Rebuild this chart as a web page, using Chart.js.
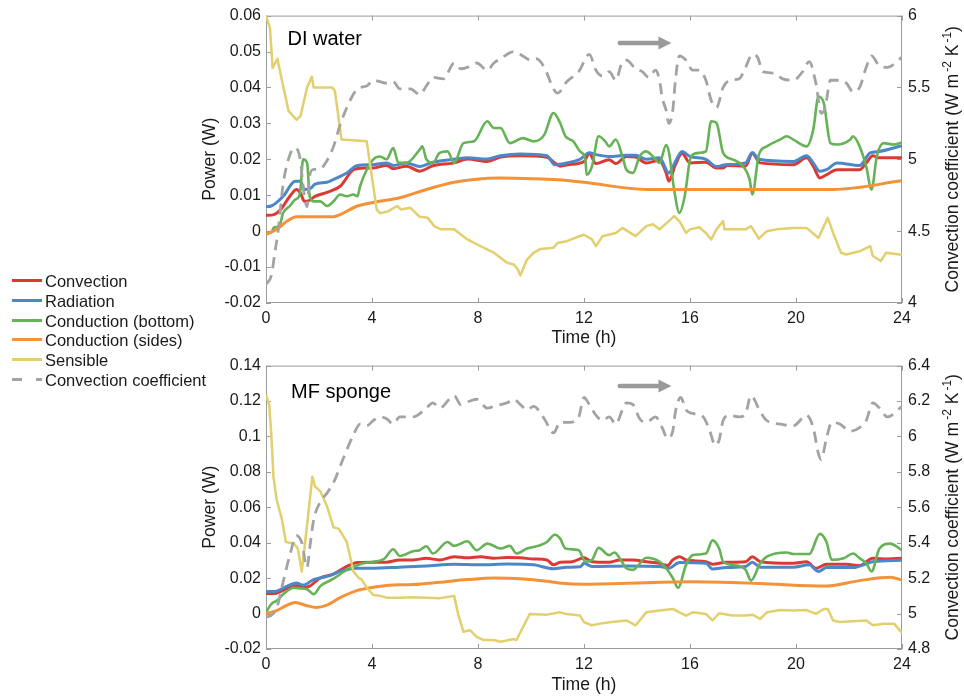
<!DOCTYPE html>
<html>
<head>
<meta charset="utf-8">
<script src="https://cdn.jsdelivr.net/npm/chart.js@4.4.1/dist/chart.umd.min.js"></script>
<style>
  html, body { margin: 0; padding: 0; background: #fff; }
  #page { position: relative; width: 964px; height: 700px; overflow: hidden;
          font-family: "Liberation Sans", Arial, Helvetica, sans-serif; color: #1a1a1a; }
  canvas { position: absolute; }
  .leg-row { position: absolute; left: 0; height: 20px; line-height: 20px; font-size: 16.5px; white-space: nowrap; }
  .leg-row .txt { position: absolute; left: 45px; top: 0; }
  .leg-row .seg { position: absolute; top: 8px; height: 3px; }
</style>
</head>
<body>
<div id="page">
  <canvas id="topChart" width="764" height="350" style="left:200px; top:0px;"></canvas>
  <canvas id="bottomChart" width="764" height="350" style="left:200px; top:350px;"></canvas>
  <div id="legend"></div>
</div>
<script>
// ---- data: [time (h), value] ----
// DI water panel, power in W
const diConvection = [[0,.0044],[.3,.0046],[.55,.006],[.9,.0097],[1.15,.0116],[1.3,.0106],[1.45,.0083],[1.55,.0083],[1.85,.0097],[2.3,.0108],[2.8,.0125],[3.3,.0171],[3.7,.0176],[4.05,.0176],[4.55,.0183],[4.8,.0174],[5.3,.0181],[5.8,.0167],[6.3,.0182],[7.1,.019],[7.6,.0201],[8.35,.0194],[8.85,.0206],[9.6,.021],[10.6,.0206],[10.9,.019],[11.1,.0181],[11.4,.0185],[12,.0194],[12.2,.0216],[12.45,.0188],[12.95,.0199],[13.2,.0188],[13.6,.0208],[13.95,.0206],[14.35,.019],[14.85,.0197],[15.1,.0162],[15.2,.0139],[15.45,.0185],[15.7,.0216],[16,.019],[16.6,.0192],[17,.0176],[17.25,.0176],[17.4,.0183],[18.1,.0181],[18.35,.0216],[18.65,.019],[19.9,.0185],[20.4,.0204],[20.65,.0181],[20.9,.0148],[21.15,.0157],[21.55,.0171],[22.4,.0171],[22.65,.019],[22.9,.021],[23.15,.0204],[24,.0204]];
const diRadiation = [[0,.0068],[.2,.007],[.65,.0097],[1.1,.0139],[1.3,.0139],[1.45,.0116],[1.7,.012],[1.85,.0131],[2.3,.0136],[2.55,.0144],[3.05,.0162],[3.45,.0183],[4.05,.0185],[4.55,.019],[4.8,.0183],[5.3,.019],[5.8,.018],[6.3,.0192],[7.1,.02],[7.6,.0204],[8.35,.0201],[8.85,.021],[9.6,.0215],[10.6,.021],[10.9,.0185],[11.35,.019],[11.85,.02],[12.2,.0218],[12.45,.0213],[12.95,.0208],[13.6,.0211],[13.95,.0211],[14.35,.02],[14.85,.0204],[15.2,.0162],[15.45,.0194],[15.7,.0222],[16,.0208],[16.6,.02],[17,.018],[17.35,.0185],[18.1,.019],[18.35,.0219],[18.6,.02],[19.9,.0194],[20.4,.021],[20.65,.019],[20.9,.0167],[21.15,.0171],[21.55,.019],[22.4,.0183],[22.8,.0218],[23.15,.0222],[24,.0238]];
const diCondBottom = [[0,-.0005],[.2,-.0003],[.3,.001],[.5,.0014],[.65,.0051],[.9,.007],[1.1,.0088],[1.25,.0097],[1.3,.0116],[1.4,.02],[1.55,.019],[1.65,.0097],[1.8,.0083],[2.05,.0083],[2.3,.007],[2.55,.0083],[2.8,.0102],[3.05,.0097],[3.3,.0102],[3.45,.0097],[3.55,.0125],[3.8,.0171],[4.05,.02],[4.3,.0208],[4.55,.02],[4.8,.0231],[5,.019],[5.3,.019],[5.8,.0227],[5.9,.0236],[6.05,.02],[6.3,.019],[6.55,.0218],[6.85,.0222],[7.1,.019],[7.45,.0245],[7.85,.025],[8.35,.0306],[8.6,.0287],[8.85,.0287],[9.2,.0245],[9.7,.0259],[10.1,.025],[10.5,.0268],[10.85,.0329],[11.1,.0301],[11.3,.0264],[11.6,.025],[11.85,.0222],[12.05,.02],[12.1,.0157],[12.3,.018],[12.55,.0264],[12.8,.025],[12.95,.0236],[13.2,.0255],[13.45,.0208],[13.6,.0171],[13.85,.0162],[14.1,.0208],[14.35,.0222],[14.6,.0208],[14.85,.019],[15.1,.024],[15.2,.0222],[15.4,.0116],[15.6,.0051],[15.8,.0097],[16,.0199],[16.1,.0213],[16.35,.0218],[16.6,.0222],[16.8,.0306],[17,.0301],[17.25,.0218],[17.6,.02],[18,.0181],[18.25,.0144],[18.35,.0102],[18.6,.0213],[18.9,.0236],[19.4,.0255],[19.65,.0264],[19.9,.0255],[20.4,.0236],[20.65,.0282],[20.85,.0375],[21.05,.0356],[21.3,.0245],[21.55,.0241],[22.05,.0255],[22.15,.0264],[22.4,.0236],[22.65,.018],[22.85,.0116],[23.05,.0208],[23.3,.0245],[23.7,.0241],[24,.0247]];
const diCondSides = [[0,-.0009],[.4,.0005],[.8,.0028],[1.15,.004],[2.55,.004],[2.8,.0046],[3.45,.007],[4.05,.008],[5.05,.0093],[6.05,.0116],[7.1,.0136],[7.85,.0144],[8.85,.0148],[10.1,.0146],[11,.0143],[12,.0136],[14.35,.0116],[21.4,.0116],[24,.014]];
const diSensible = [[0,.06],[.15,.0565],[.25,.0454],[.43,.048],[.6,.042],[.85,.0335],[1.15,.031],[1.3,.032],[1.55,.04],[1.73,.043],[1.8,.04],[2.5,.04],[2.6,.039],[2.85,.0255],[3.8,.025],[4.18,.006],[4.3,.005],[4.6,.0055],[4.95,.007],[5.1,.006],[5.45,.0065],[5.8,.004],[6.1,.0037],[6.35,.0014],[6.6,.0005],[7.1,.0005],[7.6,-.0023],[8.1,-.0042],[8.6,-.006],[9.1,-.0088],[9.35,-.0093],[9.5,-.0106],[9.6,-.0123],[9.85,-.0079],[10.1,-.006],[10.35,-.005],[10.85,-.0046],[11,-.0033],[11.35,-.0028],[11.8,-.0015],[12,-.001],[12.3,-.0023],[12.45,-.0042],[12.7,-.0014],[13.2,-.0005],[13.45,.0009],[13.95,-.0014],[14.35,.0014],[14.6,.0019],[14.85,.0005],[15.2,.0028],[15.4,.0042],[15.6,.0028],[15.85,-.0005],[16,.0005],[16.35,.0011],[16.6,-.0005],[16.8,-.0023],[17,.0005],[17.25,.0028],[17.3,.0005],[17.6,.0005],[18.1,.0005],[18.3,.0014],[18.6,-.0021],[18.9,0],[19.25,.0005],[19.9,.0009],[20.4,.0009],[20.85,-.0019],[21.05,.0014],[21.2,.0037],[21.4,-.0005],[21.7,-.006],[21.9,-.0065],[22.4,-.0056],[22.8,-.0042],[22.9,-.0069],[23.2,-.0083],[23.4,-.006],[23.9,-.0065],[24,-.0065]];
// DI water convection coefficient, W m^-2 K^-1
const diCoefficient = [[0,4.13],[.2,4.19],[.35,4.37],[.45,4.49],[.65,4.83],[.9,5.03],[1.1,5.08],[1.3,4.99],[1.4,4.81],[1.55,4.67],[1.65,4.89],[1.8,4.93],[2,4.93],[2.3,4.99],[2.55,5.09],[2.8,5.24],[3.05,5.36],[3.45,5.49],[3.8,5.51],[4.05,5.55],[4.3,5.54],[4.55,5.53],[4.8,5.54],[5.05,5.49],[5.45,5.49],[5.8,5.45],[6.05,5.51],[6.3,5.57],[6.7,5.56],[7.1,5.67],[7.35,5.63],[7.6,5.64],[7.95,5.67],[8.35,5.62],[8.6,5.67],[8.85,5.7],[9.35,5.75],[9.6,5.73],[10,5.69],[10.2,5.7],[10.5,5.64],[10.85,5.49],[11,5.46],[11.35,5.54],[11.8,5.61],[12.2,5.73],[12.45,5.62],[12.7,5.58],[12.95,5.61],[13.2,5.55],[13.45,5.68],[13.6,5.69],[13.95,5.63],[14.2,5.61],[14.45,5.57],[14.7,5.62],[14.85,5.55],[14.95,5.43],[15.1,5.34],[15.2,5.25],[15.35,5.34],[15.45,5.55],[15.6,5.72],[15.85,5.69],[16.1,5.62],[16.35,5.62],[16.6,5.55],[16.8,5.41],[17,5.36],[17.25,5.5],[17.5,5.55],[17.85,5.56],[18.1,5.64],[18.35,5.73],[18.55,5.71],[18.75,5.61],[19.15,5.6],[19.5,5.56],[19.9,5.55],[20.25,5.61],[20.5,5.68],[20.75,5.53],[20.95,5.32],[21.1,5.36],[21.3,5.55],[21.55,5.55],[21.9,5.53],[22.15,5.47],[22.4,5.5],[22.65,5.64],[22.85,5.72],[23.15,5.65],[23.45,5.64],[24,5.71]];

// MF sponge panel, power in W
const mfConvection = [[0,.0113],[.3,.0113],[.8,.0142],[1.15,.0159],[1.4,.0146],[1.65,.0155],[2.05,.0201],[2.55,.0223],[3.05,.0266],[3.45,.0288],[4.05,.029],[4.55,.029],[5.05,.0303],[5.55,.0303],[6.05,.0312],[6.55,.0303],[7.1,.0321],[7.6,.0315],[8.1,.0321],[8.6,.0312],[9.1,.0317],[9.6,.0315],[10.1,.0308],[10.6,.0303],[10.85,.0275],[11.1,.029],[11.55,.0293],[12,.0315],[12.3,.0293],[12.95,.029],[13.35,.0303],[13.85,.0303],[14.35,.0293],[14.85,.0284],[15.15,.0271],[15.35,.0303],[15.6,.0321],[15.85,.0303],[16.6,.0293],[16.85,.0279],[17.35,.029],[18.1,.0293],[18.35,.0321],[18.65,.0293],[19.9,.0284],[20.4,.0293],[20.75,.0256],[21.15,.0279],[21.9,.0279],[22.4,.0271],[22.9,.0312],[23.45,.0308],[24,.0312]];
const mfRadiation = [[0,.0124],[.3,.0124],[.8,.0155],[1.15,.0173],[1.4,.0161],[1.8,.0192],[2.3,.021],[2.8,.0238],[3.45,.0256],[4.05,.0256],[5.05,.0262],[6.05,.0269],[7.1,.0279],[8.1,.0275],[9.1,.028],[10.1,.0275],[10.85,.0253],[11.35,.0262],[11.85,.0264],[12,.0284],[12.3,.0266],[13.6,.0269],[14.85,.0266],[15.2,.0256],[15.6,.0288],[16.6,.0284],[16.85,.0251],[17.35,.026],[18.1,.0266],[18.35,.029],[18.65,.0262],[19.9,.0262],[20.5,.0275],[20.85,.0238],[21.15,.026],[22.15,.026],[22.9,.0293],[24,.0301]];
const mfCondBottom = [[0,.0007],[.2,.0054],[.4,.0072],[.65,.0109],[1.05,.0146],[1.3,.0142],[1.55,.0137],[1.8,.0109],[2.05,.0155],[2.55,.0197],[3.05,.0247],[3.55,.0279],[4.05,.0293],[4.45,.0308],[4.8,.0363],[5.05,.0325],[5.55,.0352],[5.8,.0358],[6.05,.038],[6.3,.0339],[6.85,.0404],[7.1,.0382],[7.6,.0408],[7.95,.0358],[8.35,.0395],[8.6,.0382],[8.85,.0367],[9.2,.0382],[9.45,.0339],[9.85,.0367],[10.35,.0386],[10.6,.0404],[10.9,.0445],[11.1,.0423],[11.3,.0367],[11.8,.0358],[12.05,.0293],[12.3,.0303],[12.55,.0371],[12.95,.033],[13.15,.0345],[13.35,.0312],[13.6,.0256],[13.85,.0247],[14.35,.0315],[14.85,.0293],[15.1,.0256],[15.35,.0201],[15.55,.0146],[15.85,.0275],[16.1,.033],[16.6,.0339],[16.85,.0413],[17.1,.0367],[17.25,.0293],[17.6,.0275],[18.1,.0247],[18.3,.0186],[18.65,.0284],[18.9,.0321],[19.65,.0345],[19.9,.0336],[20.5,.0336],[20.9,.045],[21.15,.0404],[21.35,.0303],[21.8,.0312],[22.15,.0339],[22.4,.0312],[22.65,.0284],[22.85,.0238],[23.15,.0367],[23.55,.0395],[24,.0358]];
const mfCondSides = [[0,0],[.4,.0017],[.8,.0048],[1.1,.0063],[1.55,.0044],[1.9,.0035],[2.3,.0048],[2.8,.009],[3.45,.0131],[4.05,.0149],[4.55,.0159],[5.55,.0164],[6.55,.0177],[7.6,.0192],[8.6,.0201],[9.6,.0197],[10.6,.0183],[11.05,.0173],[12,.0166],[16,.0179],[18.6,.017],[21.15,.0155],[22.4,.0186],[23.55,.0205],[24,.019]];
const mfSensible = [[0,.1234],[.12,.118],[.2,.101],[.28,.0773],[.4,.0644],[.6,.0533],[.75,.0404],[1.05,.0395],[1.2,.0367],[1.35,.0238],[1.55,.05],[1.75,.0773],[1.85,.0718],[2.05,.069],[2.3,.0607],[2.55,.0487],[2.75,.0478],[3.05,.0404],[3.3,.0238],[3.5,.0201],[3.6,.0195],[3.8,.0146],[4.05,.0105],[4.3,.01],[4.55,.009],[5.05,.009],[5.55,.0092],[6.05,.009],[6.55,.0087],[7.1,.01],[7.25,-.0003],[7.45,-.0103],[7.7,-.0094],[7.95,-.0131],[8.2,-.0149],[8.6,-.0149],[8.85,-.0159],[9.35,-.0144],[9.45,-.0149],[9.7,-.0076],[9.95,-.0003],[10.6,-.0006],[11.1,.0007],[11.35,-.0003],[11.85,-.0011],[12,-.0048],[12.3,-.0066],[12.7,-.0054],[13.05,-.0048],[13.6,-.0039],[13.95,-.0066],[14.35,.0007],[14.85,.0017],[15.35,.0026],[15.6,.0007],[15.85,-.0011],[16.1,.0007],[16.6,-.0002],[16.85,-.0039],[17.1,.0002],[17.6,-.0011],[18.1,-.0011],[18.35,-.0006],[18.65,-.003],[18.9,.0007],[19.4,.002],[19.9,.0017],[20.4,.002],[20.75,-.0002],[21.05,.0026],[21.2,.0026],[21.4,-.0039],[21.65,-.0048],[22.15,-.0044],[22.65,-.0039],[22.9,-.0066],[23.3,-.0057],[23.7,-.0057],[24,-.0109]];
const mfCoefficient = [[0,4.98],[.2,4.99],[.4,5.03],[.65,5.18],[.9,5.33],[1.15,5.44],[1.35,5.4],[1.55,5.26],[1.65,5.37],[1.8,5.53],[2.05,5.63],[2.3,5.68],[2.55,5.74],[2.9,5.87],[3.3,6.01],[3.55,6.07],[3.8,6.06],[4.05,6.09],[4.3,6.11],[4.55,6.1],[4.8,6.07],[5.05,6.11],[5.55,6.11],[6.05,6.16],[6.3,6.19],[6.55,6.16],[7.1,6.23],[7.35,6.18],[7.7,6.2],[7.95,6.21],[8.35,6.16],[8.6,6.17],[8.85,6.18],[9.1,6.19],[9.35,6.21],[9.6,6.18],[9.85,6.15],[10.1,6.17],[10.5,6.1],[10.85,6.02],[11.1,6.08],[11.45,6.08],[11.8,6.11],[12,6.22],[12.2,6.18],[12.45,6.12],[12.7,6.09],[12.95,6.11],[13.2,6.07],[13.45,6.15],[13.6,6.19],[13.85,6.18],[14.1,6.1],[14.35,6.08],[14.7,6.11],[14.95,6.05],[15.15,5.99],[15.35,6.03],[15.45,6.14],[15.65,6.22],[15.85,6.15],[16.1,6.13],[16.5,6.11],[16.75,6.03],[16.95,5.95],[17.1,5.98],[17.25,6.09],[17.5,6.12],[17.85,6.11],[18.1,6.13],[18.3,6.23],[18.65,6.14],[18.9,6.09],[19.4,6.07],[19.9,6.06],[20.4,6.12],[20.65,6.05],[20.85,5.9],[20.95,5.87],[21.15,5.99],[21.35,6.08],[21.65,6.07],[22.05,6.03],[22.4,6.05],[22.65,6.09],[22.9,6.19],[23.15,6.16],[23.45,6.11],[24,6.17]];

// axis ranges and labels
const timeTicks = { min: 0, max: 24, step: 4 };
const diPowerAxis = { min: -0.02, max: 0.06, step: 0.01 };
const diCoefAxis = { min: 4, max: 6, step: 0.5 };
const mfPowerAxis = { min: -0.02, max: 0.14, step: 0.02 };
const mfCoefAxis = { min: 4.8, max: 6.4, step: 0.2 };
const seriesNames = ['Convection', 'Radiation', 'Conduction (bottom)', 'Conduction (sides)', 'Sensible', 'Convection coefficient'];
const seriesColors = ['#DB3A34', '#4C87C8', '#66B256', '#F39236', '#E2CF6E', '#A3A3A3'];

const FONT = '"Liberation Sans", Arial, Helvetica, sans-serif';
const TEXT_COLOR = '#1a1a1a';
const FRAME_COLOR = '#9c9c9c';
const TICK_LEN = 5;

// frame with inward ticks, panel label, arrow and right-hand axis title
const panelDecor = {
    id: 'panelDecor',
    beforeDatasetsDraw(chart) {
        const { ctx, chartArea: a, scales } = chart;
        ctx.save();
        ctx.strokeStyle = FRAME_COLOR;
        ctx.lineWidth = 1;
        ctx.strokeRect(a.left + 0.5, a.top + 0.5, a.right - a.left - 1, a.bottom - a.top - 1);
        ctx.beginPath();
        scales.x.ticks.forEach(t => {
            const px = Math.round(scales.x.getPixelForValue(t.value)) + 0.5;
            ctx.moveTo(px, a.bottom); ctx.lineTo(px, a.bottom - TICK_LEN);
            ctx.moveTo(px, a.top); ctx.lineTo(px, a.top + TICK_LEN);
        });
        scales.y.ticks.forEach(t => {
            const py = Math.round(scales.y.getPixelForValue(t.value)) + 0.5;
            ctx.moveTo(a.left, py); ctx.lineTo(a.left + TICK_LEN, py);
        });
        scales.h.ticks.forEach(t => {
            const py = Math.round(scales.h.getPixelForValue(t.value)) + 0.5;
            ctx.moveTo(a.right, py); ctx.lineTo(a.right - TICK_LEN, py);
        });
        ctx.stroke();
        ctx.restore();
    },
    afterDatasetsDraw(chart, args, opts) {
        const { ctx, chartArea: a, scales } = chart;
        ctx.save();

        // panel label
        ctx.fillStyle = '#000';
        ctx.font = '20px ' + FONT;
        ctx.textBaseline = 'alphabetic';
        ctx.textAlign = 'left';
        ctx.fillText(opts.label, a.left + opts.labelDx, a.top + opts.labelDy);

        // arrow pointing to the right axis
        const x0 = scales.x.getPixelForValue(opts.arrow.from);
        const x1 = scales.x.getPixelForValue(opts.arrow.to);
        const ay = scales.h.getPixelForValue(opts.arrow.level);
        ctx.strokeStyle = '#9a9a9a';
        ctx.fillStyle = '#9a9a9a';
        ctx.lineWidth = 4.5;
        ctx.lineCap = 'round';
        ctx.beginPath();
        ctx.moveTo(x0, ay); ctx.lineTo(x1 - 12, ay);
        ctx.stroke();
        ctx.beginPath();
        ctx.moveTo(x1 - 13, ay - 6.5);
        ctx.lineTo(x1, ay);
        ctx.lineTo(x1 - 13, ay + 6.5);
        ctx.closePath();
        ctx.fill();

        // right axis title, reading bottom to top, with superscripts
        const parts = [
            ['Convection coefficient (W m', false],
            ['-2', true],
            [' K', false],
            ['-1', true],
            [')', false]
        ];
        const mainFont = '17.6px ' + FONT, supFont = '12px ' + FONT;
        let total = 0;
        const widths = parts.map(([s, sup]) => {
            ctx.font = sup ? supFont : mainFont;
            const w = ctx.measureText(s).width + (sup ? 2 : 0);
            total += w;
            return w;
        });
        ctx.translate(a.right + 56, (a.top + a.bottom) / 2);
        ctx.rotate(-Math.PI / 2);
        ctx.fillStyle = TEXT_COLOR;
        let cx = -total / 2;
        parts.forEach(([s, sup], i) => {
            ctx.font = sup ? supFont : mainFont;
            ctx.fillText(s, cx + (sup ? 2 : 0), sup ? -7 : 0);
            cx += widths[i];
        });
        ctx.restore();
    }
};

function toPoints(pairs) {
    return pairs.map(([t, v]) => ({ x: t, y: v }));
}

function tickLabel(v) {
    return String(Math.round(v * 1000) / 1000);
}

function makePanel(canvasId, series, powerAxis, coefAxis, panel) {
    const styles = [
        { width: 3, smooth: true },
        { width: 3, smooth: true },
        { width: 2.6, smooth: true },
        { width: 3, smooth: true },
        { width: 2.5, smooth: false },
        { width: 2.8, smooth: true, dash: [11, 7] }
    ];
    const datasets = series.map((pairs, i) => ({
        label: seriesNames[i],
        data: toPoints(pairs),
        yAxisID: i === 5 ? 'h' : 'y',
        borderColor: seriesColors[i],
        borderWidth: styles[i].width,
        borderDash: styles[i].dash || [],
        cubicInterpolationMode: styles[i].smooth ? 'monotone' : 'default',
        borderJoinStyle: 'round',
        pointRadius: 0,
        fill: false,
        order: 6 - i
    }));

    const tickFont = { family: FONT, size: 16 };
    const titleFont = { family: FONT, size: 17.6 };

    return new Chart(document.getElementById(canvasId), {
        type: 'line',
        data: { datasets },
        options: {
            responsive: false,
            animation: false,
            layout: { padding: { top: panel.padTop, left: 0, right: 0, bottom: 0 } },
            plugins: {
                legend: { display: false },
                tooltip: { enabled: false },
                panelDecor: panel.decor
            },
            scales: {
                x: {
                    type: 'linear',
                    min: timeTicks.min,
                    max: timeTicks.max,
                    grid: { display: false, drawTicks: false },
                    border: { display: false },
                    ticks: { stepSize: timeTicks.step, padding: 6, color: TEXT_COLOR, font: tickFont, maxRotation: 0 },
                    title: { display: true, text: 'Time (h)', color: TEXT_COLOR, font: titleFont, padding: { top: 0, bottom: panel.titlePad } },
                    afterFit: s => { s.height = panel.xHeight; }
                },
                y: {
                    position: 'left',
                    min: powerAxis.min,
                    max: powerAxis.max,
                    grid: { display: false, drawTicks: false },
                    border: { display: false },
                    ticks: { stepSize: powerAxis.step, padding: 5, color: TEXT_COLOR, font: tickFont, callback: tickLabel },
                    title: { display: true, text: 'Power (W)', color: TEXT_COLOR, font: titleFont, padding: { top: 0, bottom: 0 } },
                    afterFit: s => { s.width = 66; }
                },
                h: {
                    position: 'right',
                    min: coefAxis.min,
                    max: coefAxis.max,
                    grid: { display: false, drawTicks: false },
                    border: { display: false },
                    ticks: { stepSize: coefAxis.step, padding: 6, color: TEXT_COLOR, font: tickFont, callback: tickLabel },
                    afterFit: s => { s.width = 62; }
                }
            }
        },
        plugins: [panelDecor]
    });
}

makePanel('topChart',
    [diConvection, diRadiation, diCondBottom, diCondSides, diSensible, diCoefficient],
    diPowerAxis, diCoefAxis,
    {
        padTop: 15, xHeight: 47, titlePad: 1,
        decor: { label: 'DI water', labelDx: 21.5, labelDy: 29.3, arrow: { from: 13.35, to: 15.3, level: 5.81 } }
    });

makePanel('bottomChart',
    [mfConvection, mfRadiation, mfCondBottom, mfCondSides, mfSensible, mfCoefficient],
    mfPowerAxis, mfCoefAxis,
    {
        padTop: 10, xHeight: 51, titlePad: 4,
        decor: { label: 'MF sponge', labelDx: 25, labelDy: 32.7, arrow: { from: 13.35, to: 15.3, level: 6.285 } }
    });

// legend on the left, outside both panels
const legend = document.getElementById('legend');
seriesNames.forEach((name, i) => {
    const row = document.createElement('div');
    row.className = 'leg-row';
    row.style.top = (271 + i * 19.8) + 'px';
    const segs = i === 5 ? [[12, 10], [36, 6]] : [[12, 30]];
    segs.forEach(([left, w]) => {
        const seg = document.createElement('span');
        seg.className = 'seg';
        seg.style.left = left + 'px';
        seg.style.width = w + 'px';
        seg.style.background = seriesColors[i];
        row.appendChild(seg);
    });
    const txt = document.createElement('span');
    txt.className = 'txt';
    txt.textContent = name;
    row.appendChild(txt);
    legend.appendChild(row);
});
</script>
</body>
</html>
